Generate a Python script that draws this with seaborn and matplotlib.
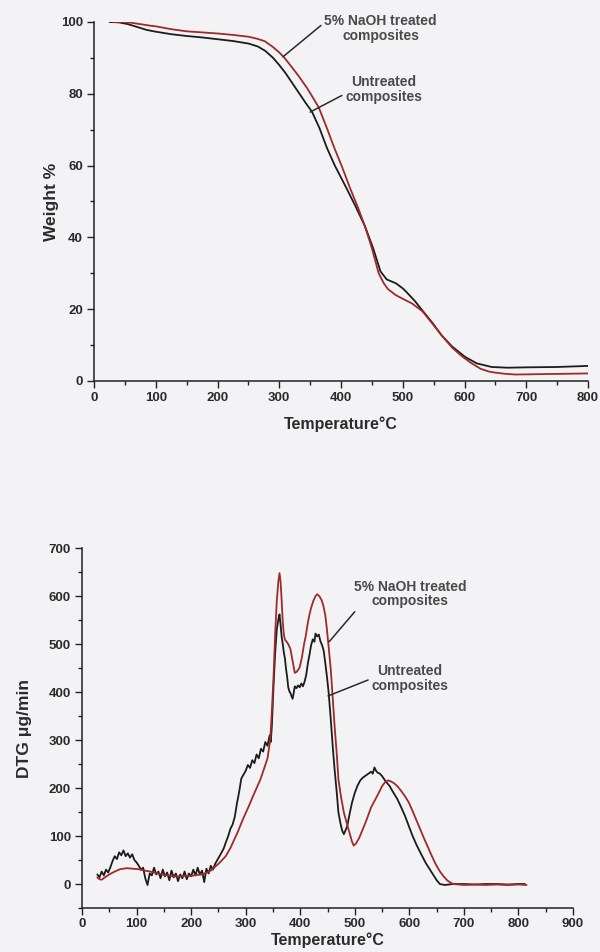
import matplotlib
matplotlib.use("Agg")
import matplotlib.pyplot as plt
import seaborn as sns
import pandas as pd
from matplotlib.ticker import MultipleLocator

# ---- TGA: weight loss curves ----
tga_temp_untreated = [25, 40, 55, 70, 85, 100, 125, 150, 175, 200, 225, 250, 265, 277,
                      290, 300, 310, 321, 332, 343, 353, 365, 377, 390, 408, 424, 439,
                      452, 464, 474, 489, 500, 507, 520, 532, 548, 563, 580, 601, 620,
                      644, 670, 700, 750, 800]
tga_wt_untreated = [100, 99.9, 99.4, 98.6, 97.8, 97.3, 96.6, 96.1, 95.7, 95.2, 94.7, 94.0,
                    93.2, 92.0, 90.0, 88.0, 85.8, 83.0, 80.2, 77.4, 75.0, 70.5, 65.0, 60.0,
                    54.0, 48.5, 43.0, 37.0, 30.5, 28.3, 27.2, 25.8, 24.6, 22.2, 19.6, 16.2,
                    12.7, 9.6, 6.7, 4.9, 3.9, 3.7, 3.8, 3.9, 4.2]

tga_temp_treated = [31, 45, 60, 75, 90, 100, 125, 150, 175, 200, 225, 250, 265, 277,
                    290, 300, 308, 320, 332, 345, 355, 364, 377, 389, 402, 414, 427,
                    439, 450, 461, 469, 476, 488, 501, 515, 532, 547, 563, 580, 595,
                    610, 626, 640, 651, 666, 682, 720, 760, 800]
tga_wt_treated = [100, 100, 99.8, 99.4, 99.0, 98.8, 98.0, 97.4, 97.1, 96.8, 96.4, 95.9,
                  95.3, 94.6, 93.0, 91.5, 90.1, 87.5, 84.8, 81.6, 78.8, 76.2, 70.5, 65.0,
                  59.5, 54.0, 48.5, 43.0, 37.0, 30.0, 27.3, 25.6, 24.0, 22.8, 21.6, 19.4,
                  16.2, 12.7, 9.3, 7.0, 5.1, 3.4, 2.6, 2.3, 2.0, 1.8, 1.9, 2.0, 2.1]

# ---- DTG: derivative curves ----
dtg_temp_untreated = [28, 32, 36, 40, 44, 48, 52, 56, 60, 64, 68, 72, 76, 80, 84, 88, 92,
                      96, 100, 104, 108, 112, 116, 120, 124, 128, 132, 136, 140, 144, 148,
                      152, 156, 160, 164, 168, 172, 176, 180, 184, 188, 192, 196, 200, 204,
                      208, 212, 216, 220, 224, 228, 232, 236, 240, 244, 248, 252, 256, 260,
                      264, 268, 272, 276, 280, 284, 288, 292, 296, 300, 304, 308, 312, 316,
                      320, 324, 328, 332, 336, 340, 344, 346, 348, 351, 354, 357, 360, 362,
                      364, 366, 368, 370, 372, 374, 376, 378, 380, 382, 384, 386, 388, 390,
                      393, 396, 399, 402, 405, 408, 411, 414, 417, 420, 423, 426, 428, 431,
                      434, 437, 440, 443, 446, 449, 452, 456, 460, 463, 467, 470, 474, 477,
                      480, 483, 486, 488, 491, 495, 500, 505, 510, 515, 520, 525, 530, 533,
                      536, 539, 542, 546, 550, 556, 564, 570, 578, 585, 592, 600, 606, 613,
                      620, 630, 641, 650, 656, 665, 680, 700, 720, 740, 760, 780, 800, 812]
dtg_untreated = [20, 14, 26, 18, 30, 24, 35, 48, 58, 52, 66, 60, 70, 58, 64, 55, 62,
                 50, 45, 38, 30, 34, 12, -2, 22, 18, 34, 20, 26, 12, 30,
                 16, 24, 8, 28, 14, 22, 6, 20, 12, 26, 10, 22, 16, 30,
                 18, 34, 20, 28, 4, 32, 22, 38, 30, 42, 50, 58, 66, 75,
                 88, 100, 115, 124, 140, 168, 192, 220, 228, 236, 248, 242, 258, 252,
                 270, 262, 282, 276, 296, 288, 310, 296, 330, 412, 480, 530, 552, 562,
                 540, 515, 500, 482, 470, 448, 432, 410, 402, 398, 392, 386, 398, 412,
                 408, 414, 410, 418, 412, 422, 436, 460, 478, 498, 510, 505, 522, 516,
                 520, 506, 498, 486, 460, 432, 400, 343, 280, 239, 190, 149, 125, 111,
                 104, 112, 120, 132, 149, 170, 190, 205, 216, 222, 226, 230, 234, 230,
                 243, 236, 232, 230, 225, 215, 204, 192, 177, 160, 142, 118, 100, 82,
                 66, 44, 24, 8, 0, -2, 0, 0, -1, 0, 0, -1, 0, 0]

dtg_temp_treated = [28, 32, 36, 42, 50, 60, 70, 82, 92, 103, 115, 125, 131, 140, 150, 160,
                    166, 180, 190, 201, 210, 220, 229, 236, 243, 250, 257, 264, 272, 280,
                    285, 292, 300, 306, 313, 320, 327, 333, 340, 345, 348, 351, 354, 357,
                    360, 362, 364, 366, 368, 370, 372, 375, 378, 382, 386, 390, 393, 396,
                    399, 403, 407, 410, 414, 417, 420, 424, 428, 431, 435, 439, 442, 446,
                    449, 452, 456, 460, 463, 467, 470, 475, 480, 486, 491, 495, 498, 502,
                    508, 515, 522, 530, 537, 543, 550, 556, 561, 566, 572, 578, 585, 592,
                    599, 606, 613, 620, 627, 634, 641, 648, 655, 662, 670, 680, 700, 720,
                    740, 760, 780, 800, 815]
dtg_treated = [14, 10, 9, 14, 20, 26, 31, 33, 32, 31, 28, 26, 24, 22, 19, 18,
               16, 16, 17, 17, 19, 20, 24, 28, 35, 42, 50, 59, 75, 95,
               107, 127, 148, 163, 182, 200, 218, 238, 262, 300, 360, 430, 520, 590,
               632, 648, 630, 590, 545, 520, 509, 505, 500, 490, 465, 440, 442, 446,
               452, 472, 500, 516, 545, 562, 576, 590, 600, 604, 600, 592, 582, 560,
               530, 495, 447, 380, 329, 270, 218, 180, 149, 124, 104, 88, 80, 84,
               96, 115, 135, 160, 175, 188, 204, 213, 216, 214, 210, 204, 194, 183,
               170, 152, 133, 114, 95, 77, 59, 42, 28, 17, 7, 0, -2, -1,
               -2, -1, -2, -1, -2]

label_treated = "5% NaOH treated\ncomposites"
label_untreated = "Untreated\ncomposites"
x_label = "Temperature\u00b0C"

sns.set_theme(style="ticks")
plt.rcParams["font.family"] = ["Liberation Sans", "DejaVu Sans"]
plt.rcParams["font.weight"] = "bold"

BLACK = "#1c1c1c"
RED = "#9e2a2b"
TEXT = "#2b2b2b"
NOTE = "#4a4a4a"

fig = plt.figure(figsize=(6.0, 9.52), dpi=100, facecolor="#f3f3f5")
ax1 = fig.add_axes([0.1567, 0.5998, 0.8233, 0.3771])
ax2 = fig.add_axes([0.1367, 0.0462, 0.8183, 0.3780])

tga_u = pd.DataFrame({"T": tga_temp_untreated, "W": tga_wt_untreated})
tga_t = pd.DataFrame({"T": tga_temp_treated, "W": tga_wt_treated})
dtg_u = pd.DataFrame({"T": dtg_temp_untreated, "D": dtg_untreated})
dtg_t = pd.DataFrame({"T": dtg_temp_treated, "D": dtg_treated})

sns.lineplot(data=tga_u, x="T", y="W", ax=ax1, color=BLACK, lw=1.3, estimator=None, sort=False)
sns.lineplot(data=tga_t, x="T", y="W", ax=ax1, color=RED, lw=1.3, estimator=None, sort=False)
sns.lineplot(data=dtg_u, x="T", y="D", ax=ax2, color=BLACK, lw=1.3, estimator=None, sort=False)
sns.lineplot(data=dtg_t, x="T", y="D", ax=ax2, color=RED, lw=1.3, estimator=None, sort=False)

for ax in (ax1, ax2):
    ax.set_facecolor("none")
    sns.despine(ax=ax)
    for s in ("left", "bottom"):
        ax.spines[s].set_color("#222222")
        ax.spines[s].set_linewidth(1.1)
    ax.tick_params(which="major", direction="out", length=5, width=1.0, colors="#222222",
                   labelsize=9.5, labelcolor=TEXT, pad=3)
    ax.tick_params(which="minor", direction="out", length=3, width=1.0, colors="#222222")

ax1.set_xlim(0, 800)
ax1.set_ylim(0, 100)
ax1.xaxis.set_major_locator(MultipleLocator(100))
ax1.xaxis.set_minor_locator(MultipleLocator(50))
ax1.yaxis.set_major_locator(MultipleLocator(20))
ax1.yaxis.set_minor_locator(MultipleLocator(10))
ax1.set_xlabel(x_label, fontsize=11.5, fontweight="bold", color=TEXT, labelpad=9)
ax1.set_ylabel("Weight %", fontsize=12.5, fontweight="bold", color=TEXT, labelpad=1)

ax2.set_xlim(0, 900)
ax2.set_ylim(-50, 700)
ax2.xaxis.set_major_locator(MultipleLocator(100))
ax2.xaxis.set_minor_locator(MultipleLocator(50))
ax2.yaxis.set_major_locator(MultipleLocator(100))
ax2.yaxis.set_minor_locator(MultipleLocator(50))
ax2.tick_params(axis="x", which="major", pad=2)
ax2.set_xlabel(x_label, fontsize=11.5, fontweight="bold", color=TEXT, labelpad=2)
ax2.set_ylabel("DTG \u03bcg/min", fontsize=12.5, fontweight="bold", color=TEXT, labelpad=12)

for ax in (ax1, ax2):
    for lab in ax.get_xticklabels() + ax.get_yticklabels():
        lab.set_fontweight("bold")

arrow = dict(arrowstyle="-", color="#2a2a2a", lw=1.1, shrinkA=0, shrinkB=0)
note_kw = dict(fontsize=10, fontweight="bold", color=NOTE, ha="center", va="center",
               linespacing=1.05, annotation_clip=False)

ax1.annotate(label_treated, xy=(306, 90.3), xytext=(464, 98.2), **note_kw,
             arrowprops=dict(arrow, relpos=(0.0, 0.7)))
ax1.annotate(label_untreated, xy=(350, 74.9), xytext=(469, 81.2), **note_kw,
             arrowprops=dict(arrow, relpos=(0.0, 0.35)))

ax2.annotate(label_treated, xy=(453, 505), xytext=(601, 604), **note_kw,
             arrowprops=dict(arrow, relpos=(0.1, 0.3)))
ax2.annotate(label_untreated, xy=(451, 392), xytext=(601, 428), **note_kw,
             arrowprops=dict(arrow, relpos=(0.0, 0.5)))

fig.savefig("out.png", dpi=100, facecolor=fig.get_facecolor())
